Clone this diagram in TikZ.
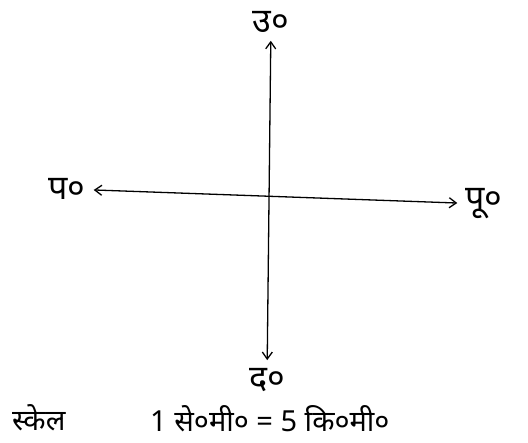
\documentclass[tikz,border=0pt]{standalone}
\usepackage{fontspec}
\newfontfamily\hindi[Script=Devanagari]{Noto Sans}
\usetikzlibrary{arrows.meta}

\begin{document}
\begin{tikzpicture}[
    x=1pt, y=-1pt,
    dirlabel/.style={font=\hindi\fontsize{34}{38}\selectfont, inner sep=1pt},
    scalelabel/.style={font=\hindi\fontsize{29}{33}\selectfont, inner sep=0pt},
    axis/.style={{Straight Barb[length=7pt, width=10pt]}-{Straight Barb[length=7pt, width=10pt]}, line width=1.3pt, shorten <=7pt, shorten >=7pt},
]
\useasboundingbox (0,0) rectangle (528,443);

% ── Dishaayen ──────────────────────────
\node[dirlabel] (north) at (271,22)  {उ०};
\node[dirlabel] (south) at (267,380) {द०};
\node[dirlabel] (west)  at (67,189)  {प०};
\node[dirlabel] (east)  at (484,204) {पू०};

% Teer
\draw[axis] (north) -- (south);
\draw[axis] (west)  -- (east);

% ── Scale ──────────────────────────────
\node[scalelabel, anchor=west] (scalename) at (12,418) {स्केल};
\node[scalelabel, anchor=west] (scaleval)  at (150,419) {1 से०मी० = 5 कि०मी०};

\end{tikzpicture}
\end{document}
